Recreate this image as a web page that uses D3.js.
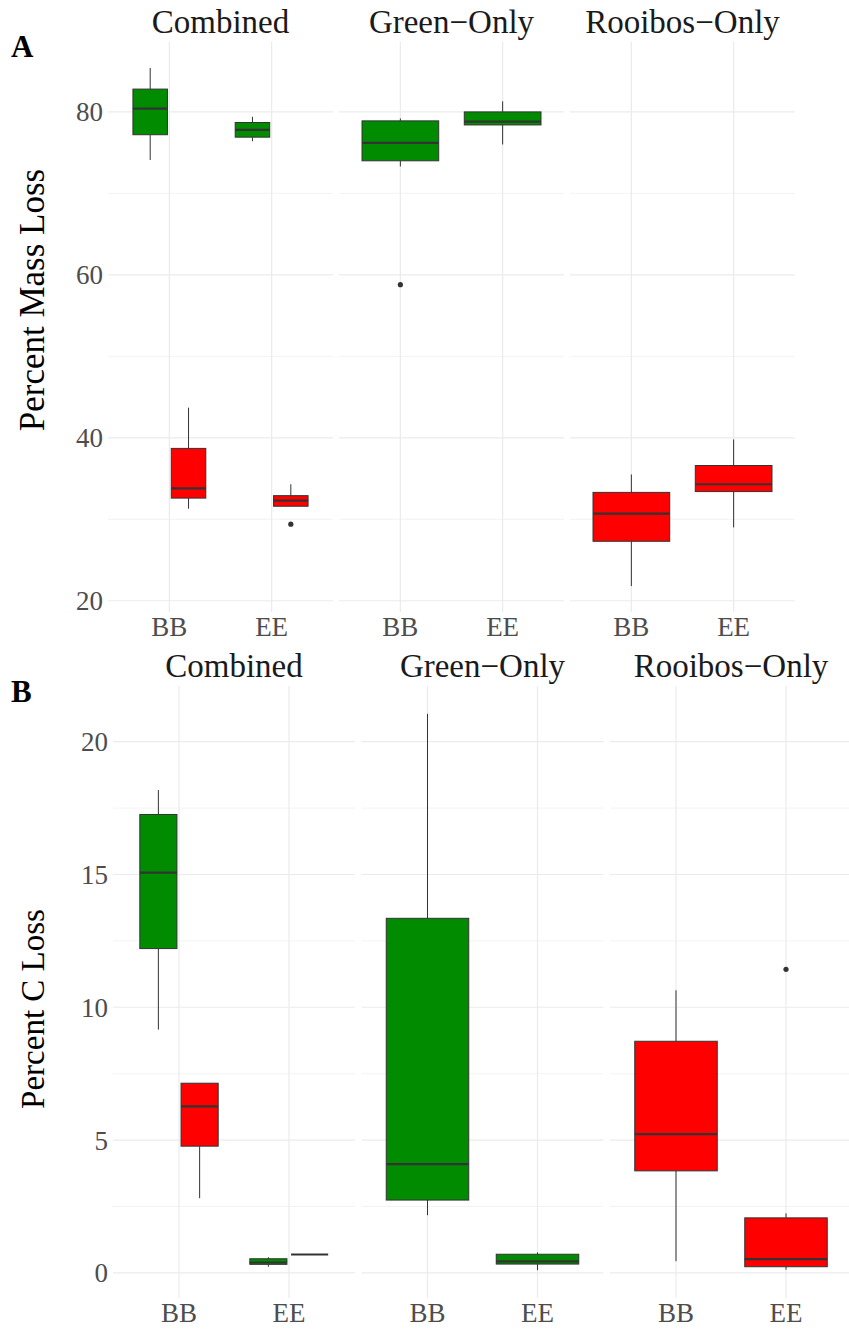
<!DOCTYPE html>
<html>
<head>
<meta charset="utf-8">
<script src="https://cdn.jsdelivr.net/npm/d3@7"></script>
<style>
  body { margin: 0; background: #ffffff; }
  svg text { font-family: "Liberation Serif", "Times New Roman", serif; }
</style>
</head>
<body>
<svg id="chart" width="849" height="1331"></svg>
<script>
// ---- data -------------------------------------------------------------
const facets = ["Combined", "Green\u2212Only", "Rooibos\u2212Only"];
const sites = ["BB", "EE"];
const teaTypes = ["Green", "Rooibos"];
const teaColors = ["#008B00", "#FF0000"];

// Percent mass loss: [facet, site, tea, lower whisker, Q1, median, Q3, upper whisker]
const massLossBoxes = [
  ["Combined", "BB", "Green", 74.1, 77.2, 80.4, 82.8, 85.4],
  ["Combined", "BB", "Rooibos", 31.3, 32.6, 33.8, 38.7, 43.7],
  ["Combined", "EE", "Green", 76.4, 76.9, 77.8, 78.7, 79.4],
  ["Combined", "EE", "Rooibos", 31.6, 31.6, 32.3, 32.9, 34.3],
  ["Green\u2212Only", "BB", "Green", 73.3, 74.0, 76.2, 78.9, 79.2],
  ["Green\u2212Only", "EE", "Green", 76.0, 78.4, 78.8, 80.0, 81.3],
  ["Rooibos\u2212Only", "BB", "Rooibos", 21.8, 27.3, 30.7, 33.3, 35.5],
  ["Rooibos\u2212Only", "EE", "Rooibos", 29.0, 33.4, 34.3, 36.6, 39.8]
];
// [facet, site, tea, value]
const massLossOutliers = [
  ["Combined", "EE", "Rooibos", 29.4],
  ["Green\u2212Only", "BB", "Green", 58.8]
];
const massMajorTicks = [20, 40, 60, 80];
const massMinorTicks = [30, 50, 70];

// Percent carbon loss
const carbonLossBoxes = [
  ["Combined", "BB", "Green", 9.16, 12.21, 15.07, 17.26, 18.18],
  ["Combined", "BB", "Rooibos", 2.81, 4.77, 6.27, 7.14, 7.14],
  ["Combined", "EE", "Green", 0.23, 0.32, 0.39, 0.53, 0.59],
  ["Combined", "EE", "Rooibos", 0.69, 0.69, 0.69, 0.69, 0.69],
  ["Green\u2212Only", "BB", "Green", 2.17, 2.74, 4.09, 13.35, 21.05],
  ["Green\u2212Only", "EE", "Green", 0.10, 0.33, 0.43, 0.70, 0.77],
  ["Rooibos\u2212Only", "BB", "Rooibos", 0.44, 3.84, 5.22, 8.72, 10.64],
  ["Rooibos\u2212Only", "EE", "Rooibos", 0.12, 0.23, 0.52, 2.07, 2.24]
];
const carbonLossOutliers = [
  ["Rooibos\u2212Only", "EE", "Rooibos", 11.43]
];
const carbonMajorTicks = [0, 5, 10, 15, 20];
const carbonMinorTicks = [2.5, 7.5, 12.5, 17.5];

// ---- drawing ----------------------------------------------------------
const svg = d3.select("#chart");
const gridColor = "#EBEBEB";
const lineColor = "#333333";

function drawBlock(opts) {
  const { tag, tagY, yTitle, yTitleX, yTitleY, yTitleSize, boxes, outliers, majorTicks, minorTicks,
          left, top, panelW, gap, height } = opts;
  const g = svg.append("g");

  // y scale with 5% expansion around the data range
  const allVals = boxes.flatMap(b => [b[3], b[7]]).concat(outliers.map(o => o[3]));
  const lo = d3.min(allVals), hi = d3.max(allVals);
  const pad = (hi - lo) * 0.05;
  const y = d3.scaleLinear().domain([lo - pad, hi + pad]).range([top + height, top]);

  const panelX = d3.scaleBand().domain(facets).range([left, left + 3 * panelW + 2 * gap])
    .paddingInner(gap / (panelW + gap)).paddingOuter(0);
  const x = d3.scalePoint().domain(sites).range([0, panelW]).padding(0.6);
  const unit = x.step();

  // tag letter
  g.append("text").attr("x", 11).attr("y", tagY)
    .attr("font-size", 31).attr("font-weight", "bold").attr("fill", "#000")
    .text(tag);

  // y-axis title
  g.append("text")
    .attr("transform", `translate(${yTitleX},${yTitleY}) rotate(-90)`)
    .attr("text-anchor", "middle").attr("font-size", yTitleSize).attr("fill", "#000")
    .text(yTitle);

  // y tick labels
  g.selectAll(".ytick").data(majorTicks).join("text")
    .attr("x", left - 5).attr("y", d => y(d))
    .attr("dy", "0.35em").attr("text-anchor", "end")
    .attr("font-size", 27).attr("fill", "#4D4D4D")
    .text(d => d);

  facets.forEach(f => {
    const px = panelX(f);
    const pg = g.append("g").attr("transform", `translate(${px},0)`);

    // grid
    pg.selectAll(".minor").data(minorTicks).join("line")
      .attr("x1", 0).attr("x2", panelW).attr("y1", d => y(d)).attr("y2", d => y(d))
      .attr("stroke", gridColor).attr("stroke-width", 0.6);
    pg.selectAll(".major").data(majorTicks).join("line")
      .attr("x1", 0).attr("x2", panelW).attr("y1", d => y(d)).attr("y2", d => y(d))
      .attr("stroke", gridColor).attr("stroke-width", 1.2);
    pg.selectAll(".vmajor").data(sites).join("line")
      .attr("x1", d => x(d)).attr("x2", d => x(d)).attr("y1", top).attr("y2", top + height)
      .attr("stroke", gridColor).attr("stroke-width", 1.2);

    // strip title
    pg.append("text").attr("x", panelW / 2).attr("y", top - 9)
      .attr("text-anchor", "middle").attr("font-size", 33).attr("fill", "#1A1A1A")
      .text(f);

    // x tick labels
    pg.selectAll(".xtick").data(sites).join("text")
      .attr("x", d => x(d)).attr("y", top + height + 24)
      .attr("text-anchor", "middle").attr("font-size", 27).attr("fill", "#4D4D4D")
      .text(d => d);

    // dodge teas present in this facet
    const teasHere = teaTypes.filter(t => boxes.some(b => b[0] === f && b[2] === t));
    const n = teasHere.length;
    const dodgeW = 0.75 * unit;
    const boxW = n > 1 ? dodgeW / n * 0.9 : dodgeW;
    const centre = (site, tea) => {
      const k = teasHere.indexOf(tea);
      return x(site) + (n > 1 ? (k - (n - 1) / 2) * dodgeW / n : 0);
    };

    const fb = boxes.filter(b => b[0] === f);
    const bg = pg.selectAll(".box").data(fb).join("g");
    bg.append("line")
      .attr("x1", d => centre(d[1], d[2])).attr("x2", d => centre(d[1], d[2]))
      .attr("y1", d => y(d[7])).attr("y2", d => y(d[6]))
      .attr("stroke", lineColor).attr("stroke-width", 1);
    bg.append("line")
      .attr("x1", d => centre(d[1], d[2])).attr("x2", d => centre(d[1], d[2]))
      .attr("y1", d => y(d[4])).attr("y2", d => y(d[3]))
      .attr("stroke", lineColor).attr("stroke-width", 1);
    bg.append("rect")
      .attr("x", d => centre(d[1], d[2]) - boxW / 2).attr("width", boxW)
      .attr("y", d => y(d[6])).attr("height", d => y(d[4]) - y(d[6]))
      .attr("fill", d => teaColors[teaTypes.indexOf(d[2])])
      .attr("stroke", lineColor).attr("stroke-width", 1);
    bg.append("line")
      .attr("x1", d => centre(d[1], d[2]) - boxW / 2).attr("x2", d => centre(d[1], d[2]) + boxW / 2)
      .attr("y1", d => y(d[5])).attr("y2", d => y(d[5]))
      .attr("stroke", lineColor).attr("stroke-width", 2.2);

    pg.selectAll(".out").data(outliers.filter(o => o[0] === f)).join("circle")
      .attr("cx", d => centre(d[1], d[2])).attr("cy", d => y(d[3])).attr("r", 2.6)
      .attr("fill", lineColor);
  });
}

drawBlock({
  tag: "A", tagY: 57, yTitle: "Percent Mass Loss", yTitleX: 44, yTitleY: 300, yTitleSize: 35,
  boxes: massLossBoxes, outliers: massLossOutliers,
  majorTicks: massMajorTicks, minorTicks: massMinorTicks,
  left: 108, top: 42, panelW: 225, gap: 6, height: 570
});

drawBlock({
  tag: "B", tagY: 702, yTitle: "Percent C Loss", yTitleX: 44, yTitleY: 1009, yTitleSize: 33,
  boxes: carbonLossBoxes, outliers: carbonLossOutliers,
  majorTicks: carbonMajorTicks, minorTicks: carbonMinorTicks,
  left: 113, top: 686, panelW: 242, gap: 6.5, height: 612
});
</script>
</body>
</html>
